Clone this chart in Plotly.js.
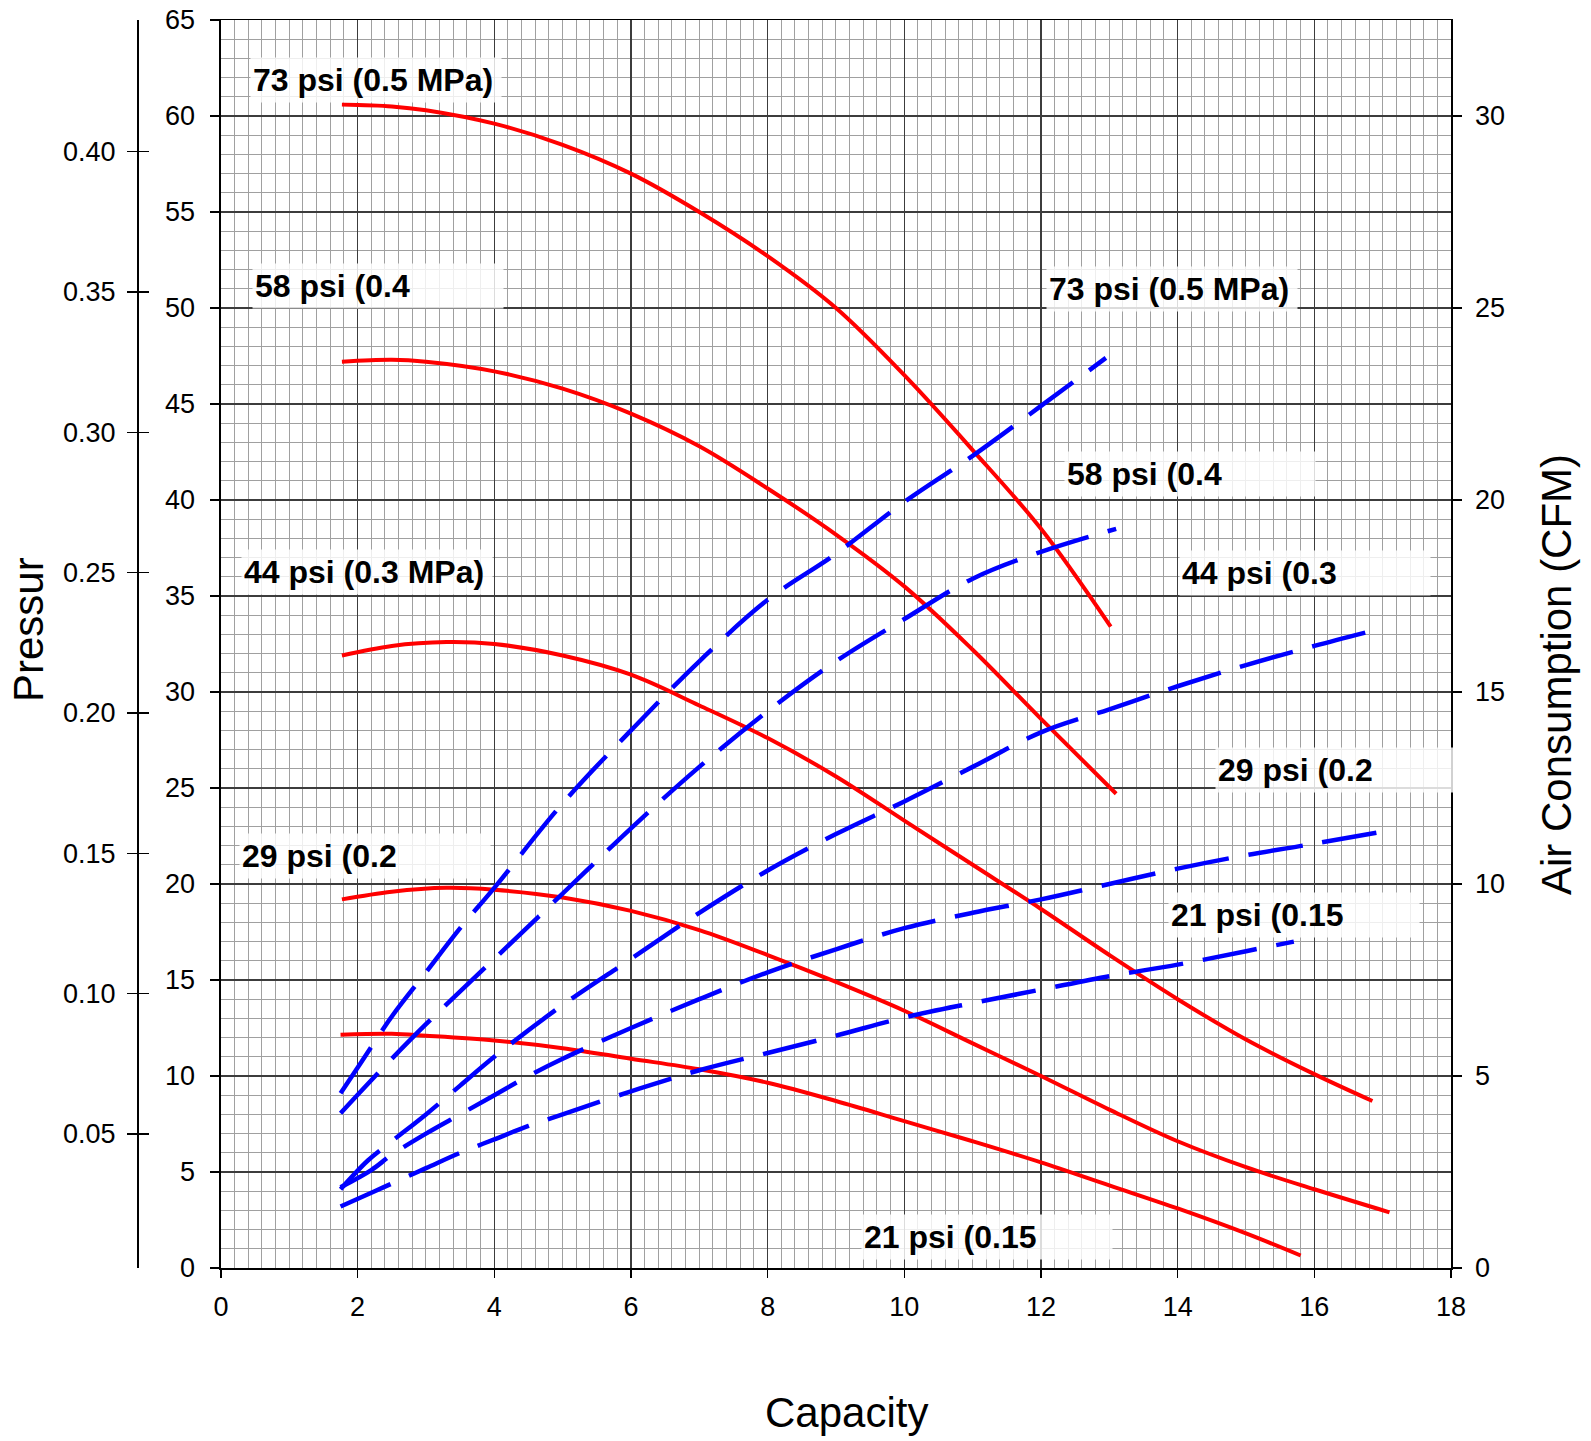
<!DOCTYPE html>
<html>
<head>
<meta charset="utf-8">
<script src="https://cdn.plot.ly/plotly-3.0.1.min.js"></script>
<style>html,body{margin:0;padding:0;background:#fff;}</style>
</head>
<body>
<div id="chart" style="width:1591px;height:1441px;"></div>
<script>
// ---- Pressure curves (left axis, 0-65) ----
const p73_x = [1.77, 2.5, 3, 4, 5, 6, 7, 8, 9, 10, 11, 12, 13.02];
const p73_y = [60.6, 60.5, 60.3, 59.6, 58.5, 57.0, 55.0, 52.7, 50.0, 46.5, 42.6, 38.5, 33.4];
const p58_x = [1.77, 2.5, 3, 4, 5, 6, 7, 8, 9, 10, 11, 12, 13.1];
const p58_y = [47.2, 47.3, 47.2, 46.7, 45.8, 44.5, 42.8, 40.6, 38.2, 35.5, 32.2, 28.6, 24.7];
const p44_x = [1.77, 2.5, 3.3, 4, 5, 6, 7, 8, 9, 10, 11, 12, 13, 14, 15, 16, 16.85];
const p44_y = [31.9, 32.4, 32.6, 32.5, 31.9, 30.9, 29.3, 27.6, 25.6, 23.3, 21.0, 18.7, 16.3, 14.0, 11.9, 10.1, 8.7];
const p29_x = [1.77, 2.5, 3.3, 4, 5, 6, 7, 8, 9, 10, 11, 12, 13, 14, 15, 16, 17.1];
const p29_y = [19.2, 19.6, 19.8, 19.7, 19.3, 18.6, 17.6, 16.3, 14.9, 13.4, 11.7, 10.0, 8.25, 6.6, 5.25, 4.1, 2.9];
const p21_x = [1.75, 2.5, 3, 4, 5, 6, 7, 8, 9, 10, 11, 12, 13, 14, 15, 15.8];
const p21_y = [12.15, 12.2, 12.1, 11.85, 11.45, 10.9, 10.35, 9.65, 8.7, 7.65, 6.6, 5.5, 4.3, 3.1, 1.8, 0.65];

// ---- Air consumption curves (right axis, CFM) ----
const a73_x = [1.75, 2.05, 2.5, 3, 3.5, 4, 5, 6, 7, 8, 9, 10, 11, 12, 12.95];
const a73_y = [4.55, 5.35, 6.55, 7.7, 8.85, 9.9, 12.1, 14.0, 15.8, 17.4, 18.6, 19.95, 21.15, 22.45, 23.7];
const a58_x = [1.75, 2.1, 2.5, 3, 4, 5, 6, 7, 8, 9, 10, 11, 12, 13.1];
const a58_y = [4.03, 4.7, 5.45, 6.35, 8.05, 9.75, 11.45, 13.05, 14.5, 15.8, 16.9, 17.95, 18.65, 19.25];
const a44_x = [1.75, 2.15, 2.5, 3, 3.5, 4, 5, 6, 7, 8, 9, 10, 11, 12, 13, 14, 15, 16, 16.75];
const a44_y = [2.05, 2.8, 3.3, 4.0, 4.75, 5.5, 6.85, 8.05, 9.25, 10.35, 11.3, 12.15, 13.05, 13.95, 14.55, 15.15, 15.7, 16.2, 16.55];
const a29_x = [1.75, 2.2, 2.5, 3, 3.5, 4, 4.5, 5, 6, 7, 8, 9, 10, 11, 12, 13, 14, 15, 16, 16.95];
const a29_y = [2.1, 2.55, 2.95, 3.5, 4.0, 4.5, 5.0, 5.45, 6.25, 7.0, 7.7, 8.3, 8.85, 9.25, 9.6, 10.0, 10.4, 10.75, 11.05, 11.35];
const a21_x = [1.75, 2.25, 2.5, 3, 3.5, 4, 4.5, 5, 6, 7, 8, 9, 10, 11, 12, 13, 14, 15, 15.7];
const a21_y = [1.6, 2.0, 2.2, 2.6, 3.0, 3.35, 3.7, 4.0, 4.6, 5.15, 5.6, 6.05, 6.525, 6.9, 7.25, 7.6, 7.9, 8.25, 8.5];

// ---- Tick labels ----
const mpaTicks = [0.05, 0.10, 0.15, 0.20, 0.25, 0.30, 0.35, 0.40];
const mpaLabels = ["0.05", "0.10", "0.15", "0.20", "0.25", "0.30", "0.35", "0.40"];

// ---- Curve labels ----
const leftLabels = ["73 psi (0.5 MPa)", "58 psi (0.4", "44 psi (0.3 MPa)", "29 psi (0.2", "21 psi (0.15"];
const leftLabelX = [0.42, 0.45, 0.30, 0.27, 9.36];
const leftLabelY = [61.85, 51.17, 36.25, 21.45, 1.62];
const rightLabels = ["73 psi (0.5 MPa)", "58 psi (0.4", "44 psi (0.3", "29 psi (0.2", "21 psi (0.15"];
const rightLabelX = [12.08, 12.34, 14.02, 14.55, 13.86];
const rightLabelY = [51.0, 41.33, 36.2, 25.96, 18.36];

const FONT = "Liberation Sans, Arial, Helvetica, sans-serif";

function redTrace(x, y, name) {
  return {x: x, y: y, name: name, type: 'scatter', mode: 'lines', xaxis: 'x', yaxis: 'y',
    line: {color: '#FF0000', width: 4, shape: 'spline', smoothing: 1}, hoverinfo: 'x+y'};
}
function blueTrace(x, y, name) {
  return {x: x, y: y, name: name, type: 'scatter', mode: 'lines', xaxis: 'x', yaxis: 'y2',
    line: {color: '#0000FF', width: 4.5, shape: 'spline', smoothing: 1, dash: '55px,20px'}, hoverinfo: 'x+y'};
}
function axisHolder(yaxis) {
  // empty trace so that the MPa scale axis is created and drawn
  return {x: [], y: [], type: 'scatter', mode: 'lines', xaxis: 'x', yaxis: yaxis,
    showlegend: false, hoverinfo: 'skip'};
}

const data = [
  redTrace(p73_x, p73_y, 'Pressure 73 psi'),
  redTrace(p58_x, p58_y, 'Pressure 58 psi'),
  redTrace(p44_x, p44_y, 'Pressure 44 psi'),
  redTrace(p29_x, p29_y, 'Pressure 29 psi'),
  redTrace(p21_x, p21_y, 'Pressure 21 psi'),
  blueTrace(a73_x, a73_y, 'Air 73 psi'),
  blueTrace(a58_x, a58_y, 'Air 58 psi'),
  blueTrace(a44_x, a44_y, 'Air 44 psi'),
  blueTrace(a29_x, a29_y, 'Air 29 psi'),
  blueTrace(a21_x, a21_y, 'Air 21 psi'),
  axisHolder('y3'),
  axisHolder('y4')
];

const annotations = [];
function addLabel(t, x, y) {
  annotations.push({text: '<b>' + t + '</b>', x: x, y: y, xref: 'x', yref: 'y',
    xanchor: 'left', yanchor: 'middle', showarrow: false, align: 'left',
    width: 246, height: 40, borderpad: 2,
    bgcolor: 'rgba(255,255,255,0.82)',
    font: {family: FONT, size: 32, color: '#000'}});
}
leftLabels.forEach((t, i) => addLabel(t, leftLabelX[i], leftLabelY[i]));
rightLabels.forEach((t, i) => addLabel(t, rightLabelX[i], rightLabelY[i]));

annotations.push({text: 'Capacity', xref: 'paper', yref: 'paper', x: 0.5805, y: -0.1154,
  xanchor: 'center', yanchor: 'middle', showarrow: false, font: {family: FONT, size: 42, color: '#000'}});
annotations.push({text: 'Air Consumption (CFM)', xref: 'paper', yref: 'paper', x: 1.0736, y: 0.4752,
  xanchor: 'center', yanchor: 'middle', textangle: -90, showarrow: false, font: {family: FONT, size: 42, color: '#000'}});
annotations.push({text: 'Pressur', xref: 'paper', yref: 'paper', x: 0.0125, y: 0.5112,
  xanchor: 'center', yanchor: 'middle', textangle: -90, showarrow: false, font: {family: FONT, size: 42, color: '#000'}});

const tickFont = {family: FONT, size: 27, color: '#000'};

const layout = {
  width: 1591, height: 1441,
  margin: {l: 10, r: 140, t: 20, b: 173, pad: 0},
  paper_bgcolor: '#fff', plot_bgcolor: '#fff',
  showlegend: false,
  font: {family: FONT, color: '#000'},
  xaxis: {
    domain: [0.1464, 1], range: [0, 18], tick0: 0, dtick: 2,
    showgrid: true, gridcolor: '#3c3c3c', gridwidth: 1.6,
    minor: {dtick: 0.2, showgrid: true, gridcolor: '#a0a0a0', gridwidth: 1},
    showline: true, linecolor: '#000', linewidth: 1.5, mirror: true,
    ticks: 'outside', ticklen: 8, tickcolor: '#000', tickwidth: 1.2,
    tickfont: tickFont, zeroline: false, ticklabelstandoff: 6
  },
  yaxis: {
    range: [0, 65], tick0: 0, dtick: 5,
    showgrid: true, gridcolor: '#3c3c3c', gridwidth: 1.6,
    minor: {dtick: 1, showgrid: true, gridcolor: '#a0a0a0', gridwidth: 1},
    showline: true, linecolor: '#000', linewidth: 1.5, mirror: true,
    ticks: 'outside', ticklen: 9, tickcolor: '#000', tickwidth: 1.2,
    tickfont: tickFont, zeroline: false, ticklabelstandoff: 10
  },
  yaxis2: {
    overlaying: 'y', side: 'right', anchor: 'x', range: [0, 32.5], tick0: 0, dtick: 5,
    showgrid: false, zeroline: false,
    showline: true, linecolor: '#000', linewidth: 1.5,
    ticks: 'outside', ticklen: 9, tickcolor: '#000', tickwidth: 1.2,
    tickfont: tickFont, ticklabelstandoff: 8
  },
  yaxis3: {
    overlaying: 'y', side: 'left', anchor: 'free', position: 0.0888,
    range: [0.00224, 0.4469], tickvals: mpaTicks, ticktext: mpaLabels,
    showgrid: false, zeroline: false,
    showline: true, linecolor: '#000', linewidth: 2,
    ticks: 'outside', ticklen: 10, tickcolor: '#000', tickwidth: 1.5,
    tickfont: tickFont, ticklabelstandoff: 6
  },
  yaxis4: {
    overlaying: 'y', side: 'left', anchor: 'free', position: 0.0888,
    range: [0.00224, 0.4469], tickvals: mpaTicks, showticklabels: false,
    showgrid: false, zeroline: false, showline: false,
    ticks: 'inside', ticklen: 10, tickcolor: '#000', tickwidth: 1.5
  },
  annotations: annotations
};

Plotly.newPlot('chart', data, layout, {staticPlot: true, displayModeBar: false});
</script>
</body>
</html>
